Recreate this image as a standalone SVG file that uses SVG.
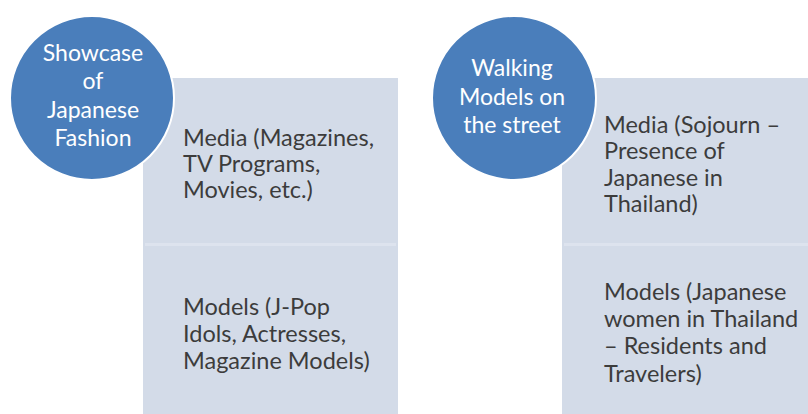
<svg xmlns="http://www.w3.org/2000/svg" width="808" height="414" viewBox="0 0 808 414">
  <style>
    .panel { fill: #d3dbe8; }
    .divider { fill: #dde3ee; }
    .bubble { fill: #4a7ebb; stroke: #ffffff; stroke-width: 2; }
    .head { font-family: Lato, "Open Sans", sans-serif; font-size: 23px; fill: #ffffff; text-anchor: middle; }
    .body { font-family: Lato, "Open Sans", sans-serif; font-size: 23.5px; fill: #3c3c3c; }
  </style>
  <rect width="808" height="414" fill="#ffffff"/>

  <!-- left column -->
  <g id="panel-left">
    <rect class="panel" x="143" y="78" width="255" height="336"/>
    <rect class="divider" x="145" y="243" width="251" height="3"/>
  </g>
  <g id="item-media-left">
    <text class="body" x="183" y="146">Media (Magazines,</text>
    <text class="body" x="183" y="172">TV Programs,</text>
    <text class="body" x="183" y="198">Movies, etc.)</text>
  </g>
  <g id="item-models-left">
    <text class="body" x="183" y="315">Models (J-Pop</text>
    <text class="body" x="183" y="342">Idols, Actresses,</text>
    <text class="body" x="183" y="369">Magazine Models)</text>
  </g>
  <g id="circle-showcase">
    <circle class="bubble" cx="92" cy="98" r="82"/>
    <text class="head" x="93" y="61">Showcase</text>
    <text class="head" x="93" y="89">of</text>
    <text class="head" x="93" y="118">Japanese</text>
    <text class="head" x="93" y="146">Fashion</text>
  </g>

  <!-- right column -->
  <g id="panel-right">
    <rect class="panel" x="562" y="78" width="246" height="336"/>
    <rect class="divider" x="564" y="243" width="244" height="3"/>
  </g>
  <g id="item-media-right">
    <text class="body" x="604" y="133">Media (Sojourn –</text>
    <text class="body" x="604" y="159">Presence of</text>
    <text class="body" x="604" y="186">Japanese in</text>
    <text class="body" x="604" y="212">Thailand)</text>
  </g>
  <g id="item-models-right">
    <text class="body" x="604" y="300">Models (Japanese</text>
    <text class="body" x="604" y="327">women in Thailand</text>
    <text class="body" x="604" y="354">– Residents and</text>
    <text class="body" x="604" y="382">Travelers)</text>
  </g>
  <g id="circle-walking">
    <circle class="bubble" cx="514" cy="98" r="82"/>
    <text class="head" x="512" y="76">Walking</text>
    <text class="head" x="512" y="105">Models on</text>
    <text class="head" x="512" y="133">the street</text>
  </g>

  <g id="connectors"></g>
</svg>
